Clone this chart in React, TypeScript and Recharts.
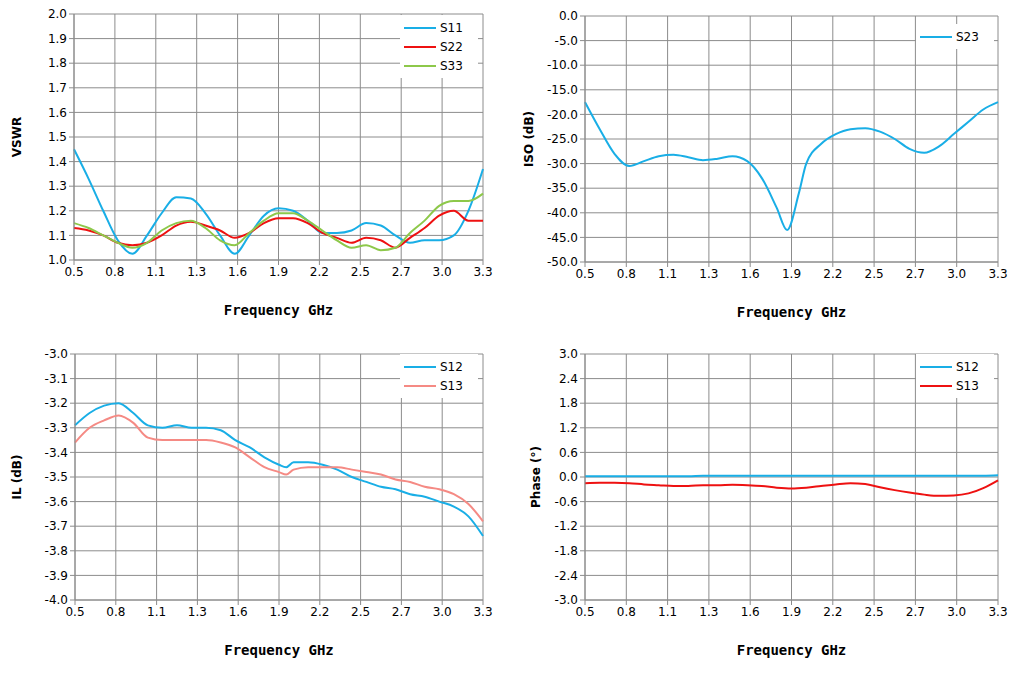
import React from "react";
import { LineChart, Line, XAxis, YAxis, CartesianGrid } from "recharts";

// frequency grids (GHz)
const freqA = [0.5, 0.6, 0.7, 0.8, 0.9, 1.0, 1.1, 1.2, 1.3, 1.4, 1.5, 1.6, 1.7, 1.8, 1.9, 2.0, 2.1, 2.2, 2.3, 2.4, 2.5, 2.6, 2.7, 2.8, 2.9, 3.0, 3.1, 3.2, 3.3];
const freqIso = [0.5, 0.6, 0.7, 0.8, 0.9, 1.0, 1.1, 1.2, 1.3, 1.4, 1.5, 1.6, 1.7, 1.8, 1.87, 1.95, 2.0, 2.1, 2.2, 2.3, 2.4, 2.5, 2.6, 2.7, 2.8, 2.9, 3.0, 3.1, 3.2, 3.3];
const freqIL = [0.5, 0.6, 0.7, 0.8, 0.9, 1.0, 1.1, 1.2, 1.3, 1.4, 1.5, 1.6, 1.7, 1.8, 1.9, 1.95, 2.0, 2.1, 2.2, 2.3, 2.4, 2.5, 2.6, 2.7, 2.8, 2.9, 3.0, 3.1, 3.2, 3.3];

const s11 = [1.45, 1.33, 1.2, 1.08, 1.025, 1.1, 1.19, 1.255, 1.25, 1.19, 1.1, 1.025, 1.1, 1.18, 1.21, 1.2, 1.16, 1.11, 1.11, 1.12, 1.15, 1.14, 1.1, 1.07, 1.08, 1.08, 1.1, 1.2, 1.37];
const s22 = [1.13, 1.12, 1.1, 1.07, 1.06, 1.07, 1.1, 1.14, 1.155, 1.14, 1.12, 1.09, 1.11, 1.15, 1.17, 1.17, 1.15, 1.11, 1.09, 1.07, 1.09, 1.08, 1.05, 1.09, 1.13, 1.18, 1.2, 1.16, 1.16];
const s33 = [1.15, 1.13, 1.1, 1.07, 1.05, 1.07, 1.12, 1.15, 1.16, 1.13, 1.08, 1.06, 1.11, 1.16, 1.19, 1.19, 1.16, 1.12, 1.08, 1.05, 1.06, 1.04, 1.05, 1.11, 1.16, 1.22, 1.24, 1.24, 1.27];

const s23 = [-17.5, -23, -28, -30.5, -29.5, -28.5, -28.2, -28.7, -29.3, -29, -28.5, -29.5, -33, -39, -43.5, -36, -30, -26, -24, -23, -22.8, -23.5, -25, -27, -27.8, -26.5, -24, -21.5, -19, -17.5];

const il12 = [-3.29, -3.24, -3.21, -3.2, -3.24, -3.29, -3.3, -3.29, -3.3, -3.3, -3.31, -3.35, -3.38, -3.42, -3.45, -3.46, -3.44, -3.44, -3.45, -3.47, -3.5, -3.52, -3.54, -3.55, -3.57, -3.58, -3.6, -3.62, -3.66, -3.74];
const il13 = [-3.36, -3.3, -3.27, -3.25, -3.28, -3.34, -3.35, -3.35, -3.35, -3.35, -3.36, -3.38, -3.42, -3.46, -3.48, -3.49, -3.47, -3.46, -3.46, -3.46, -3.47, -3.48, -3.49, -3.51, -3.52, -3.54, -3.55, -3.57, -3.61, -3.68];

const ph12 = [0.02, 0.02, 0.02, 0.02, 0.02, 0.02, 0.02, 0.02, 0.03, 0.03, 0.03, 0.03, 0.03, 0.03, 0.03, 0.03, 0.03, 0.03, 0.03, 0.03, 0.03, 0.03, 0.03, 0.03, 0.03, 0.03, 0.03, 0.03, 0.04];
const ph13 = [-0.15, -0.14, -0.14, -0.15, -0.18, -0.2, -0.22, -0.22, -0.2, -0.2, -0.19, -0.2, -0.22, -0.26, -0.28, -0.26, -0.22, -0.18, -0.15, -0.17, -0.25, -0.32, -0.38, -0.43, -0.46, -0.45, -0.4, -0.27, -0.08];

const xTicks = [0.5, 0.78, 1.06, 1.34, 1.62, 1.9, 2.18, 2.46, 2.74, 3.02, 3.3];
const vswrTicks = [1.0, 1.1, 1.2, 1.3, 1.4, 1.5, 1.6, 1.7, 1.8, 1.9, 2.0];
const isoTicks = [0, -5, -10, -15, -20, -25, -30, -35, -40, -45, -50];
const ilTicks = [-3.0, -3.1, -3.2, -3.3, -3.4, -3.5, -3.6, -3.7, -3.8, -3.9, -4.0];
const phaseTicks = [3.0, 2.4, 1.8, 1.2, 0.6, 0, -0.6, -1.2, -1.8, -2.4, -3.0];

const BLUE = "#19aee6";
const RED = "#ee1111";
const GREEN = "#8dc84a";
const PINK = "#f58a84";

type S = { key: string; name: string; color: string; values: number[] };

function Panel({ ox, oy, plot, xs, series, yTicks, yLabel, labelX, legend }: {
  ox: number; oy: number; plot: [number, number, number, number];
  xs: number[]; series: S[]; yTicks: number[]; yLabel: string; labelX: number;
  legend: { x: number; y: number; w: number };
}) {
  const W = 509, H = 339;
  const [pl, pt, pr, pb] = plot;
  const data = xs.map((f, i) => {
    const row: any = { f };
    series.forEach((s) => { if (s.values[i] !== undefined) row[s.key] = s.values[i]; });
    return row;
  });
  const yMin = Math.min(...yTicks), yMax = Math.max(...yTicks);
  const tick = { fontSize: 12, fill: "#000", fontFamily: "DejaVu Sans" };
  return (
    <div style={{ position: "absolute", left: ox, top: oy, width: W, height: H }}>
      <LineChart width={W} height={H} data={data}
        margin={{ top: pt - oy, right: W - (pr - ox), left: 0, bottom: H - (pb - oy) - 24 }}>
        <CartesianGrid stroke="#8c8c8c" />
        <XAxis dataKey="f" type="number" domain={[0.5, 3.3]} ticks={xTicks} height={24}
          tickFormatter={(v) => v.toFixed(1)} tick={tick} stroke="#8c8c8c" tickSize={5} interval={0} />
        <YAxis type="number" domain={[yMin, yMax]} ticks={yTicks} width={pl - ox}
          tickFormatter={(v) => v.toFixed(1)} tick={tick} stroke="#8c8c8c" tickSize={5} interval={0} />
        {series.map((s) => (
          <Line key={s.key} dataKey={s.key} type="monotone" stroke={s.color} strokeWidth={2}
            dot={false} isAnimationActive={false} connectNulls />
        ))}
      </LineChart>
      <div style={{ position: "absolute", left: legend.x - ox, top: legend.y - oy, width: legend.w,
        background: "#fff", padding: "3px 4px", fontFamily: "DejaVu Sans", fontSize: 12 }}>
        {series.map((s) => (
          <div key={s.key} style={{ display: "flex", alignItems: "center", height: 19 }}>
            <div style={{ width: 32, height: 2, background: s.color, marginRight: 4 }} />
            {s.name}
          </div>
        ))}
      </div>
      <div style={{ position: "absolute", left: labelX - ox - 100, top: (pt + pb) / 2 - oy - 8,
        width: 200, height: 16, lineHeight: "16px", textAlign: "center", transform: "rotate(-90deg)",
        fontFamily: "DejaVu Sans", fontWeight: "bold", fontSize: 12 }}>
        {yLabel}
      </div>
      <div style={{ position: "absolute", left: (pl + pr) / 2 - ox - 150, top: pb - oy + 42, width: 300, textAlign: "center",
        fontFamily: "DejaVu Sans Mono", fontWeight: "bold", fontSize: 14 }}>
        Frequency GHz
      </div>
    </div>
  );
}

export default function App() {
  return (
    <div style={{ position: "absolute", left: 0, top: 0, width: 1018, height: 678, background: "#fff" }}>
      <Panel ox={0} oy={0} plot={[74, 14, 483, 260]} xs={freqA} yTicks={vswrTicks} yLabel="VSWR" labelX={17}
        legend={{ x: 400, y: 15, w: 70 }}
        series={[
          { key: "s11", name: "S11", color: BLUE, values: s11 },
          { key: "s22", name: "S22", color: RED, values: s22 },
          { key: "s33", name: "S33", color: GREEN, values: s33 },
        ]} />
      <Panel ox={509} oy={0} plot={[585, 16, 998, 262]} xs={freqIso} yTicks={isoTicks} yLabel="ISO (dB)" labelX={529}
        legend={{ x: 916, y: 24, w: 70 }}
        series={[{ key: "s23", name: "S23", color: BLUE, values: s23 }]} />
      <Panel ox={0} oy={339} plot={[75, 354, 483, 600]} xs={freqIL} yTicks={ilTicks} yLabel="IL (dB)" labelX={17}
        legend={{ x: 400, y: 354, w: 70 }}
        series={[
          { key: "a", name: "S12", color: BLUE, values: il12 },
          { key: "b", name: "S13", color: PINK, values: il13 },
        ]} />
      <Panel ox={509} oy={339} plot={[585, 354, 998, 600]} xs={freqA} yTicks={phaseTicks} yLabel="Phase (°)" labelX={536}
        legend={{ x: 916, y: 354, w: 70 }}
        series={[
          { key: "a", name: "S12", color: BLUE, values: ph12 },
          { key: "b", name: "S13", color: RED, values: ph13 },
        ]} />
    </div>
  );
}
